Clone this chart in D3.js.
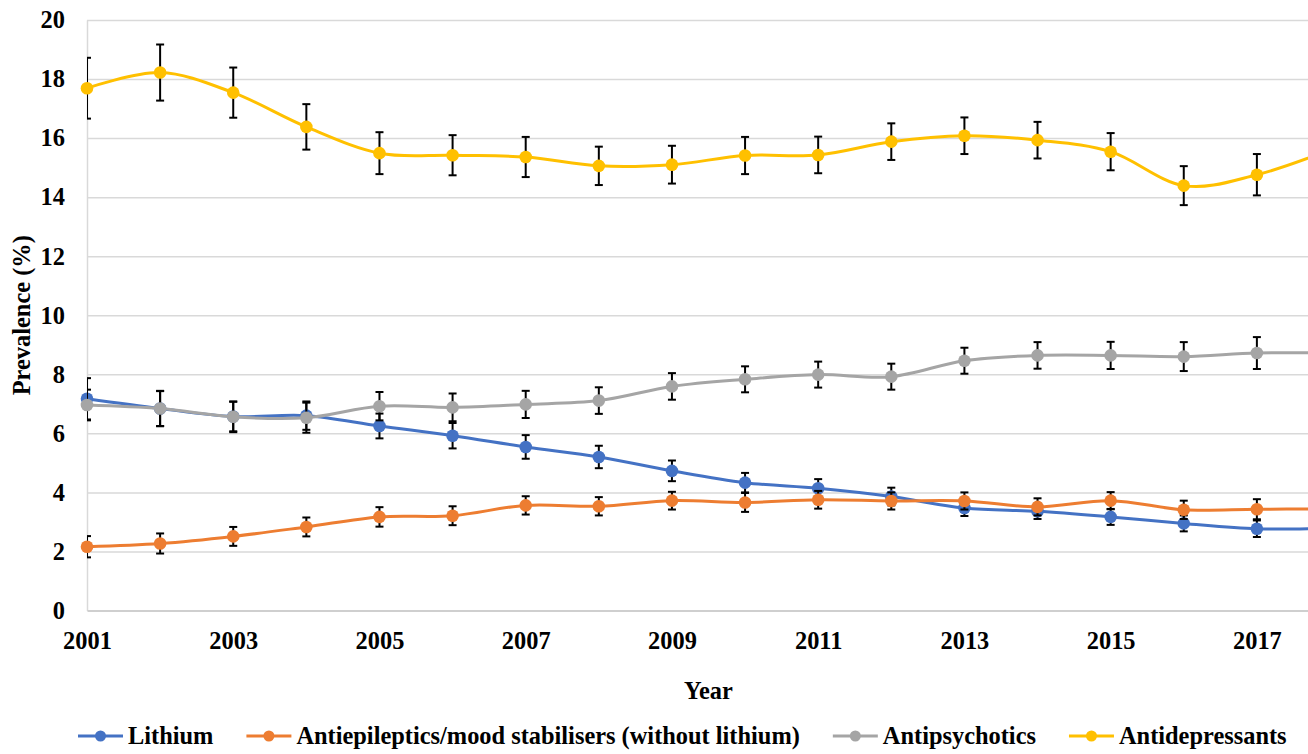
<!DOCTYPE html>
<html>
<head>
<meta charset="utf-8">
<script src="https://cdn.jsdelivr.net/npm/d3@7/dist/d3.min.js"></script>
<style>
  html, body { margin: 0; padding: 0; background: #fff; overflow: hidden; }
  svg { display: block; font-family: "Liberation Serif", "Times New Roman", serif; font-weight: bold; }
</style>
</head>
<body>
<svg id="chart" width="1308" height="754"></svg>
<script>
// Prescription prevalence by year, with 95% CI half-widths
const years = [2001, 2002, 2003, 2004, 2005, 2006, 2007, 2008, 2009, 2010, 2011, 2012, 2013, 2014, 2015, 2016, 2017, 2018];
const xTickYears = [2001, 2003, 2005, 2007, 2009, 2011, 2013, 2015, 2017];
const yTicks = [0, 2, 4, 6, 8, 10, 12, 14, 16, 18, 20];

const seriesNames = ["Lithium", "Antiepileptics/mood stabilisers (without lithium)", "Antipsychotics", "Antidepressants"];
const seriesColors = ["#4472C4", "#ED7D31", "#A5A5A5", "#FFC000"];

const lithium =        [7.17, 6.84, 6.57, 6.60, 6.25, 5.92, 5.54, 5.20, 4.73, 4.33, 4.14, 3.86, 3.47, 3.36, 3.17, 2.95, 2.77, 2.79];
const lithiumErr =     [0.70, 0.60, 0.50, 0.48, 0.42, 0.43, 0.40, 0.38, 0.35, 0.33, 0.31, 0.30, 0.27, 0.26, 0.27, 0.27, 0.28, 0.28];
const antiepileptics = [2.16, 2.27, 2.51, 2.83, 3.17, 3.21, 3.56, 3.53, 3.72, 3.66, 3.75, 3.71, 3.71, 3.51, 3.72, 3.41, 3.43, 3.44];
const antiepErr =      [0.36, 0.34, 0.32, 0.32, 0.33, 0.32, 0.31, 0.31, 0.30, 0.32, 0.30, 0.29, 0.29, 0.29, 0.29, 0.31, 0.34, 0.34];
const antipsychotics = [6.96, 6.84, 6.56, 6.53, 6.92, 6.88, 6.98, 7.11, 7.59, 7.83, 7.99, 7.92, 8.46, 8.64, 8.64, 8.60, 8.72, 8.73];
const antipsyErr =     [0.52, 0.59, 0.52, 0.51, 0.48, 0.47, 0.46, 0.45, 0.45, 0.44, 0.44, 0.44, 0.44, 0.45, 0.46, 0.49, 0.54, 0.54];
const antidepressants = [17.69, 18.22, 17.54, 16.38, 15.49, 15.42, 15.36, 15.06, 15.10, 15.41, 15.43, 15.88, 16.08, 15.93, 15.54, 14.39, 14.76, 15.60];
const antidepErr =      [1.03, 0.95, 0.85, 0.77, 0.71, 0.68, 0.68, 0.65, 0.64, 0.63, 0.62, 0.62, 0.62, 0.62, 0.63, 0.66, 0.70, 0.70];

const seriesValues = [lithium, antiepileptics, antipsychotics, antidepressants];
const seriesErrors = [lithiumErr, antiepErr, antipsyErr, antidepErr];

const svg = d3.select("#chart");
const x = d3.scaleLinear().domain([2001, 2018]).range([87, 1330]);
const y = d3.scaleLinear().domain([0, 20]).range([610.5, 20]);
const fontFam = "'Liberation Serif', 'Times New Roman', serif";

// plot-area clip (error bars at the first year are cut by the axis)
svg.append("defs").append("clipPath").attr("id", "plotClip")
  .append("rect").attr("x", x(2001)).attr("y", 0).attr("width", 1400).attr("height", 754);

// horizontal gridlines
const grid = svg.append("g").attr("transform", `translate(${x(2001)},0)`)
  .call(d3.axisLeft(y).tickValues(yTicks.filter(d => d > 0)).tickSize(-(x(2018) - x(2001))).tickFormat(""));
grid.select(".domain").remove();
grid.selectAll(".tick line").attr("stroke", "#d9d9d9").attr("stroke-width", 1.5);

// y tick labels
const yAxis = svg.append("g").attr("transform", `translate(${x(2001)},0)`)
  .call(d3.axisLeft(y).tickValues(yTicks).tickSize(0).tickPadding(22));
yAxis.attr("font-family", fontFam);
yAxis.select(".domain").attr("stroke", "#d9d9d9").attr("stroke-width", 1.5);
yAxis.selectAll("text").attr("font-weight", "bold").attr("font-size", 24.4).attr("fill", "#000");

// x axis
const xAxis = svg.append("g").attr("transform", `translate(0,${y(0)})`)
  .call(d3.axisBottom(x).tickValues(xTickYears).tickFormat(d3.format("d")).tickSize(0).tickPadding(21));
xAxis.attr("font-family", fontFam);
xAxis.select(".domain").attr("stroke", "#cfcfcf").attr("stroke-width", 2);
xAxis.selectAll("text").attr("font-weight", "bold").attr("font-size", 24.4).attr("fill", "#000");

// axis titles
svg.append("text").attr("x", x(2009.5)).attr("y", 699).attr("text-anchor", "middle")
  .attr("font-family", fontFam).attr("font-size", 24.4).text("Year");
svg.append("text").attr("transform", `translate(30,${(y(0) + y(20)) / 2}) rotate(-90)`)
  .attr("font-family", fontFam).attr("text-anchor", "middle").attr("font-size", 24.4).text("Prevalence (%)");

const line = d3.line().x((d, i) => x(years[i])).y(d => y(d)).curve(d3.curveCardinal.tension(0));

seriesValues.forEach((vals, s) => {
  const errs = seriesErrors[s];
  const g = svg.append("g");
  // error bars
  const eb = g.append("g").attr("clip-path", "url(#plotClip)")
    .attr("stroke", "#000").attr("stroke-width", 2);
  vals.forEach((v, i) => {
    const cx = x(years[i]), top = y(v + errs[i]), bot = y(v - errs[i]);
    eb.append("line").attr("x1", cx).attr("x2", cx).attr("y1", top).attr("y2", bot);
    eb.append("line").attr("x1", cx - 4).attr("x2", cx + 4).attr("y1", top).attr("y2", top);
    eb.append("line").attr("x1", cx - 4).attr("x2", cx + 4).attr("y1", bot).attr("y2", bot);
  });
  // smoothed line
  g.append("path").datum(vals).attr("d", line).attr("fill", "none")
    .attr("stroke", seriesColors[s]).attr("stroke-width", 3);
  // markers
  g.selectAll("circle").data(vals).join("circle")
    .attr("cx", (d, i) => x(years[i])).attr("cy", d => y(d)).attr("r", 6.3)
    .attr("fill", seriesColors[s]);
});

// legend
const legend = svg.append("g").attr("transform", "translate(78,736)").attr("font-family", fontFam);
let lx = 0;
seriesNames.forEach((name, s) => {
  const item = legend.append("g").attr("transform", `translate(${lx},0)`);
  item.append("line").attr("x1", 0).attr("x2", 45).attr("y1", 0).attr("y2", 0)
    .attr("stroke", seriesColors[s]).attr("stroke-width", 3);
  item.append("circle").attr("cx", 22.5).attr("cy", 0).attr("r", 5.5).attr("fill", seriesColors[s]);
  const t = item.append("text").attr("x", 50).attr("y", 8).attr("font-size", 24.4).text(name);
  lx += 50 + t.node().getComputedTextLength() + 33;
});
</script>
</body>
</html>
